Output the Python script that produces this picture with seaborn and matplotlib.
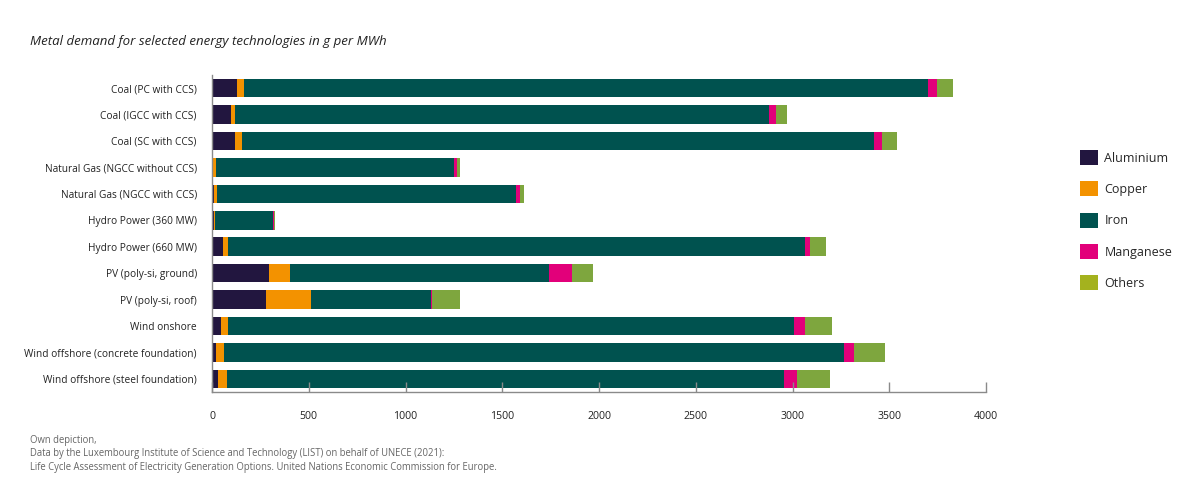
import matplotlib
matplotlib.use("Agg")
import matplotlib.pyplot as plt
import matplotlib.patches as mpatches
import numpy as np
import seaborn as sns

# values, g per MWh
technologies = [
    "Coal (PC with CCS)",
    "Coal (IGCC with CCS)",
    "Coal (SC with CCS)",
    "Natural Gas (NGCC without CCS)",
    "Natural Gas (NGCC with CCS)",
    "Hydro Power (360 MW)",
    "Hydro Power (660 MW)",
    "PV (poly-si, ground)",
    "PV (poly-si, roof)",
    "Wind onshore",
    "Wind offshore (concrete foundation)",
    "Wind offshore (steel foundation)",
]
aluminium = [128, 98, 117, 7, 10, 12, 58, 296, 277, 48, 21, 31]
copper = [38, 22, 38, 12, 16, 3, 24, 105, 233, 33, 43, 45]
iron = [3533, 2758, 3264, 1230, 1547, 300, 2980, 1342, 620, 2927, 3204, 2882]
manganese = [46, 38, 44, 15, 19, 3, 26, 116, 9, 57, 50, 64]
others = [83, 53, 76, 17, 22, 5, 86, 110, 143, 141, 160, 172]

metals = ["Aluminium", "Copper", "Iron", "Manganese", "Others"]
colors = ["#22163f", "#f39200", "#00524f", "#e2007a", "#7ea63e"]
legend_colors = ["#22163f", "#f39200", "#00524f", "#e2007a", "#a4b21e"]

sns.set_style("white")
plt.rcParams["font.family"] = ["Open Sans", "DejaVu Sans"]

fig = plt.figure(figsize=(12, 5.03), dpi=100)
ax = fig.add_axes([0.1767, 0.2207, 0.645, 0.6303])

# stacked bars: draw cumulative totals back to front
series = [aluminium, copper, iron, manganese, others]
cum = np.cumsum(np.array(series), axis=0)
for i in range(len(series) - 1, -1, -1):
    sns.barplot(x=cum[i], y=technologies, color=colors[i], orient="h",
                width=0.7, linewidth=0, saturation=1, ax=ax)

# keep the inward ticks visible on top of the bars
for p in ax.patches:
    p.set_zorder(0.5)
ax.xaxis.set_zorder(3)

ax.set_xlim(0, 4000)
ax.set_ylim(11.5, -0.5)
ax.set_xticks([0, 500, 1000, 1500, 2000, 2500, 3000, 3500, 4000])
ax.set_xlabel("")
ax.set_ylabel("")

for side in ["top", "right"]:
    ax.spines[side].set_visible(False)
for side in ["left", "bottom"]:
    ax.spines[side].set_color("#8a8a8a")
    ax.spines[side].set_linewidth(1.0)

ax.tick_params(axis="x", bottom=True, direction="in", length=7, width=1, color="#8a8a8a",
               labelsize=7.6, pad=14, labelcolor="#222222")
ax.tick_params(axis="y", left=False, length=0, labelsize=7.3, pad=11, labelcolor="#222222")

fig.text(30 / 1200, 1 - 42 / 503, "Metal demand for selected energy technologies in g per MWh",
         fontsize=9.5, style="italic", color="#222222", va="center")

footnote = ("Own depiction,\n"
            "Data by the Luxembourg Institute of Science and Technology (LIST) on behalf of UNECE (2021):\n"
            "Life Cycle Assessment of Electricity Generation Options. United Nations Economic Commission for Europe.")
fig.text(30 / 1200, 1 - 435 / 503, footnote, fontsize=6.85, color="#666666",
         va="top", linespacing=1.3)

handles = [mpatches.Patch(facecolor=c, edgecolor="none", label=m)
           for m, c in zip(metals, legend_colors)]
fig.legend(handles=handles, loc="upper left", bbox_to_anchor=(1080 / 1200, 1 - 150 / 503),
           frameon=False, fontsize=9, handlelength=1.45, handleheight=1.45,
           labelspacing=1.32, handletextpad=0.5, borderpad=0, borderaxespad=0)

fig.savefig("out.png", dpi=100)
